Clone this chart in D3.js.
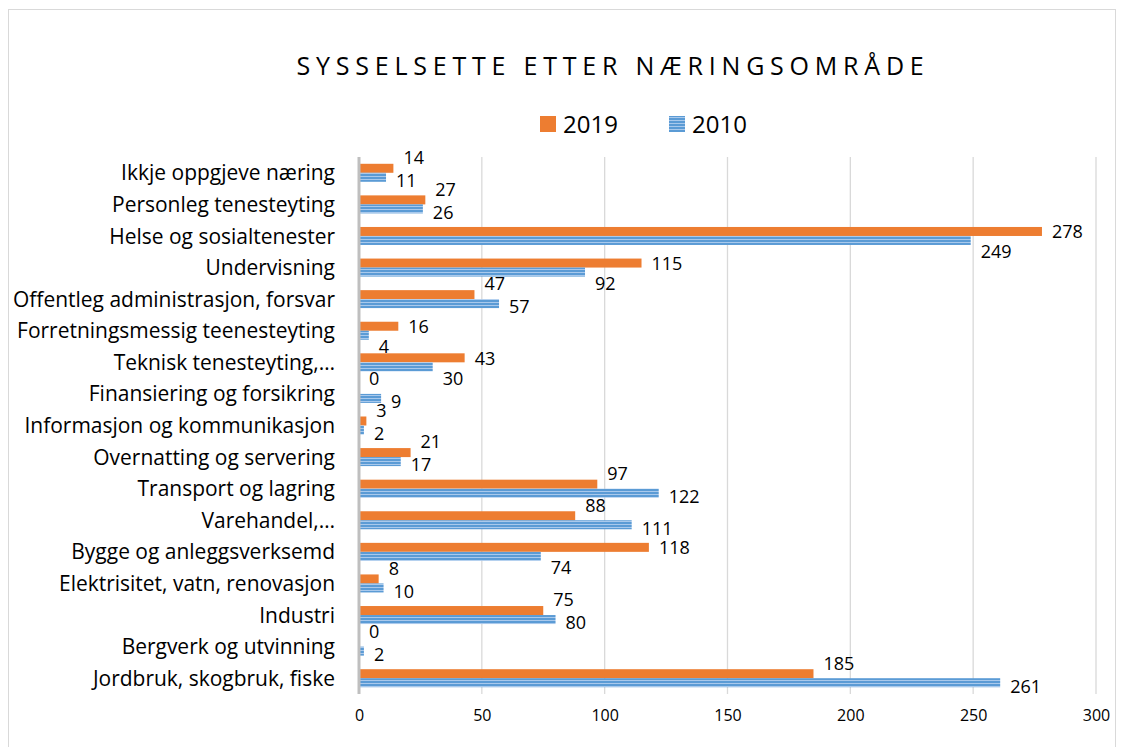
<!DOCTYPE html>
<html>
<head>
<meta charset="utf-8">
<script src="https://cdn.jsdelivr.net/npm/d3@7"></script>
<style>
  body { margin: 0; background: #fff; }
  svg { display: block; font-family: "Open Sans", Lato, sans-serif; }
</style>
</head>
<body>
<div id="chart"></div>
<script>
// Data (top to bottom)
const categories = [
  'Ikkje oppgjeve næring',
  'Personleg tenesteyting',
  'Helse og sosialtenester',
  'Undervisning',
  'Offentleg administrasjon, forsvar',
  'Forretningsmessig teenesteyting',
  'Teknisk tenesteyting,…',
  'Finansiering og forsikring',
  'Informasjon og kommunikasjon',
  'Overnatting og servering',
  'Transport og lagring',
  'Varehandel,…',
  'Bygge og anleggsverksemd',
  'Elektrisitet, vatn, renovasjon',
  'Industri',
  'Bergverk og utvinning',
  'Jordbruk, skogbruk, fiske'
];
const values2019 = [14, 27, 278, 115, 47, 16, 43, 0, 3, 21, 97, 88, 118, 8, 75, 0, 185];
const values2010 = [11, 26, 249, 92, 57, 4, 30, 9, 2, 17, 122, 111, 74, 10, 80, 2, 261];
const seriesNames = ['2019', '2010'];
const xTicks = [0, 50, 100, 150, 200, 250, 300];
const chartTitle = 'SYSSELSETTE ETTER NÆRINGSOMRÅDE';

const width = 1124, height = 747;
const margin = { top: 157, left: 359, right: 28, bottom: 53 };

const svg = d3.select('#chart').append('svg')
  .attr('width', width)
  .attr('height', height);

// pattern for the striped 2010 bars
const defs = svg.append('defs');
const pat = defs.append('pattern')
  .attr('id', 'stripes')
  .attr('patternUnits', 'userSpaceOnUse')
  .attr('width', 6).attr('height', 3);
pat.append('rect').attr('width', 6).attr('height', 3).attr('fill', '#5b9bd5');
pat.append('rect').attr('y', 2).attr('width', 6).attr('height', 1).attr('fill', '#a9c9ec');

// outer chart frame
svg.append('rect')
  .attr('x', 8.5).attr('y', 9.5)
  .attr('width', 1107).attr('height', 760)
  .attr('fill', 'none')
  .attr('stroke', '#d9d9d9');

const x = d3.scaleLinear()
  .domain([0, 300])
  .range([margin.left, width - margin.right]);

const y = d3.scaleBand()
  .domain(categories)
  .range([margin.top, height - margin.bottom])
  .paddingInner(0.43)
  .paddingOuter(0.215);

// gridlines
svg.append('g')
  .selectAll('line')
  .data(xTicks.slice(1))
  .join('line')
  .attr('x1', d => x(d)).attr('x2', d => x(d))
  .attr('y1', margin.top).attr('y2', height - margin.bottom)
  .attr('stroke', '#d9d9d9')
  .attr('stroke-width', 1.3);

// x tick labels
const xAxis = svg.append('g')
  .attr('transform', `translate(0,${height - margin.bottom})`)
  .call(d3.axisBottom(x).tickValues(xTicks).tickSize(0).tickPadding(16));
xAxis.select('.domain').remove();
xAxis.selectAll('text')
  .attr('font-family', '"Open Sans", sans-serif')
  .attr('font-size', 16)
  .attr('fill', '#000');

// bars
const barH = y.bandwidth() / 2;
const rows = categories.map((c, i) => ({ cat: c, v19: values2019[i], v10: values2010[i] }));

const barG = svg.append('g');
barG.selectAll('rect.b19')
  .data(rows)
  .join('rect')
  .attr('class', 'b19')
  .attr('x', x(0))
  .attr('y', d => y(d.cat))
  .attr('width', d => x(d.v19) - x(0))
  .attr('height', barH)
  .attr('fill', '#ed7d31');

barG.selectAll('rect.b10')
  .data(rows)
  .join('rect')
  .attr('class', 'b10')
  .attr('x', x(0))
  .attr('y', d => y(d.cat) + barH)
  .attr('width', d => x(d.v10) - x(0))
  .attr('height', barH)
  .attr('fill', 'url(#stripes)');

// vertical axis line
svg.append('line')
  .attr('x1', x(0)).attr('x2', x(0))
  .attr('y1', margin.top).attr('y2', height - margin.bottom)
  .attr('stroke', '#bfbfbf')
  .attr('stroke-width', 3);

// category labels, sized so the first one spans the same width as in the reference
const catG = svg.append('g').attr('font-size', 20);
const catLabels = catG.selectAll('text')
  .data(categories)
  .join('text')
  .attr('x', x(0) - 24)
  .attr('y', d => y(d) + y.bandwidth() / 2)
  .attr('dy', '0.36em')
  .attr('text-anchor', 'end')
  .attr('fill', '#000')
  .text(d => d);
const firstW = catLabels.node().getComputedTextLength();
catG.attr('font-size', 20 * 214 / firstW);

// data labels: when the 2019 bar is clearly the longer one its label sits level
// with it and the 2010 label drops below; otherwise 2019 goes above
function isLevel(d) { return d.v19 - d.v10 >= 5; }
const mid = d => y(d.cat) + barH;
const labG = svg.append('g').attr('font-size', 18).attr('fill', '#000');
labG.selectAll('text.l19')
  .data(rows)
  .join('text')
  .attr('class', 'l19')
  .attr('x', d => x(d.v19) + 10)
  .attr('y', d => isLevel(d) ? mid(d) - 4 : mid(d) - 15)
  .attr('dy', '0.35em')
  .text(d => d.v19);

labG.selectAll('text.l10')
  .data(rows)
  .join('text')
  .attr('class', 'l10')
  .attr('x', d => x(d.v10) + 10)
  .attr('y', d => isLevel(d) ? mid(d) + 16 : mid(d) + 8)
  .attr('dy', '0.35em')
  .text(d => d.v10);

// title, letter-spaced to its width in the reference
const title = svg.append('text')
  .attr('x', 613)
  .attr('y', 75)
  .attr('text-anchor', 'middle')
  .attr('font-size', 25)
  .attr('fill', '#000')
  .text(chartTitle);
const natural = title.node().getComputedTextLength();
title.attr('letter-spacing', (633 - natural) / chartTitle.length);

// legend
const legend = svg.append('g').attr('transform', 'translate(540,124)');
const legendItems = legend.selectAll('g')
  .data(seriesNames)
  .join('g')
  .attr('transform', (d, i) => `translate(${i * 129},0)`);
legendItems.append('rect')
  .attr('x', 0).attr('y', -8)
  .attr('width', 16).attr('height', 16)
  .attr('fill', (d, i) => i === 0 ? '#ed7d31' : 'url(#stripes)');
legendItems.append('text')
  .attr('x', 23)
  .attr('dy', '0.36em')
  .attr('font-size', 24)
  .attr('fill', '#000')
  .text(d => d);
</script>
</body>
</html>
